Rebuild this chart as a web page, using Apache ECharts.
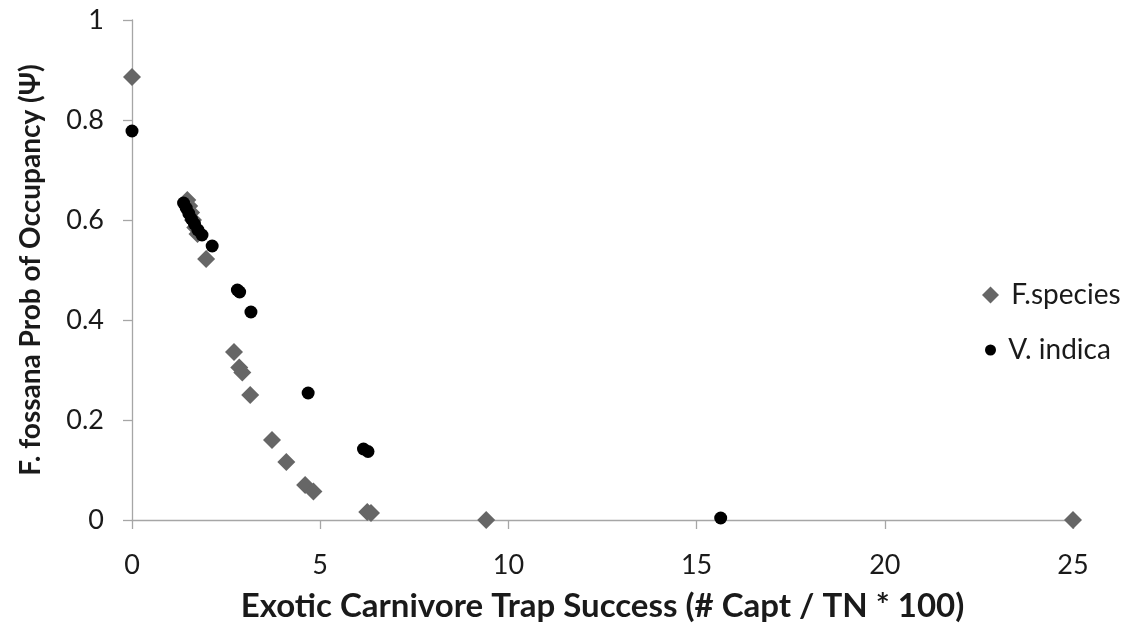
<!DOCTYPE html>
<html>
<head>
<meta charset="utf-8">
<script src="https://cdn.jsdelivr.net/npm/echarts@6/dist/echarts.min.js"></script>
<style>
  html, body { margin: 0; padding: 0; background: #fff; }
  #chart { width: 1129px; height: 629px; }
</style>
</head>
<body>
<div id="chart"></div>
<script>
// Trap success (x) vs. occupancy probability (y) for each exotic carnivore
const fSpeciesX = [0, 1.47, 1.52, 1.57, 1.62, 1.68, 1.74, 1.97, 2.71, 2.85, 2.93, 3.14, 3.72, 4.1, 4.6, 4.82, 6.25, 6.35, 9.41, 25];
const fSpeciesY = [0.886, 0.640, 0.628, 0.615, 0.600, 0.585, 0.572, 0.522, 0.336, 0.305, 0.295, 0.250, 0.160, 0.116, 0.070, 0.057, 0.016, 0.014, 0, 0];

const vIndicaX = [0, 1.37, 1.44, 1.51, 1.58, 1.66, 1.75, 1.86, 2.13, 2.80, 2.86, 3.16, 4.68, 6.15, 6.27, 15.64];
const vIndicaY = [0.778, 0.634, 0.624, 0.613, 0.602, 0.592, 0.580, 0.570, 0.548, 0.460, 0.456, 0.416, 0.254, 0.142, 0.137, 0.004];

const xTicks = [0, 5, 10, 15, 20, 25];
const yTicks = [0, 0.2, 0.4, 0.6, 0.8, 1];

const pairs = (xs, ys) => xs.map((x, i) => [x, ys[i]]);

const font = 'Lato, "Open Sans", sans-serif';
const axisGray = '#a6a6a6';
const ink = '#1a1a1a';

const legendText = { fontSize: 28, color: ink, fontFamily: font };

const chart = echarts.init(document.getElementById('chart'));
chart.setOption({
  animation: false,
  backgroundColor: '#ffffff',
  textStyle: { fontFamily: font },
  grid: { left: 132, right: 56, top: 20, bottom: 109 },
  legend: [
    {
      left: 977,
      top: 276,
      itemWidth: 17,
      itemHeight: 17,
      formatter: name => ' ' + name,
      textStyle: legendText,
      data: [{ name: 'F.species', icon: 'diamond', itemStyle: { color: '#666666' } }]
    },
    {
      left: 980,
      top: 331,
      itemWidth: 11,
      itemHeight: 11,
      formatter: name => ' ' + name,
      textStyle: legendText,
      data: [{ name: 'V. indica', icon: 'circle', itemStyle: { color: '#000000' } }]
    }
  ],
  xAxis: {
    type: 'value',
    min: xTicks[0],
    max: xTicks[xTicks.length - 1],
    interval: 5,
    name: 'Exotic Carnivore Trap Success (# Capt / TN * 100)',
    nameLocation: 'middle',
    nameGap: 70,
    nameTextStyle: { fontSize: 33, fontWeight: 'bold', color: ink, fontFamily: font },
    axisLine: { show: true, lineStyle: { color: axisGray, width: 1.3 } },
    axisTick: { show: true, length: 9, lineStyle: { color: axisGray, width: 1.3 } },
    axisLabel: { fontSize: 27, color: ink, margin: 32, fontFamily: font },
    splitLine: { show: false }
  },
  yAxis: {
    type: 'value',
    min: yTicks[0],
    max: yTicks[yTicks.length - 1],
    interval: 0.2,
    name: 'F. fossana Prob of Occupancy (Ψ)',
    nameLocation: 'middle',
    nameRotate: 90,
    nameGap: 87,
    nameTextStyle: { fontSize: 28, fontWeight: 'bold', color: ink, fontFamily: font },
    axisLine: { show: true, onZero: false, lineStyle: { color: axisGray, width: 1.3 } },
    axisTick: { show: true, length: 9, lineStyle: { color: axisGray, width: 1.3 } },
    axisLabel: {
      fontSize: 27, color: ink, margin: 28, fontFamily: font,
      formatter: v => String(Math.round(v * 10) / 10)
    },
    splitLine: { show: false }
  },
  series: [
    {
      name: 'F.species',
      type: 'scatter',
      symbol: 'diamond',
      symbolSize: 18,
      itemStyle: { color: '#666666', opacity: 1 },
      data: pairs(fSpeciesX, fSpeciesY),
      z: 2
    },
    {
      name: 'V. indica',
      type: 'scatter',
      symbol: 'circle',
      symbolSize: 13,
      itemStyle: { color: '#000000', opacity: 1 },
      data: pairs(vIndicaX, vIndicaY),
      z: 3
    }
  ]
});
</script>
</body>
</html>
